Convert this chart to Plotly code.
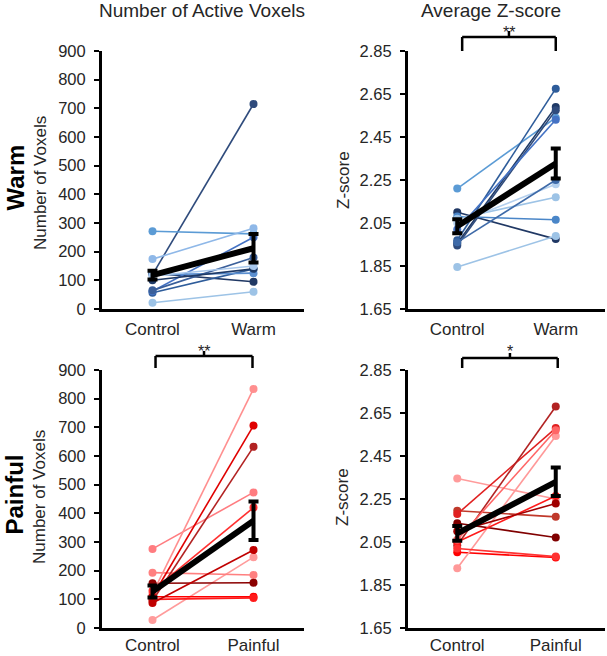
import plotly.graph_objects as go

W, H = 607, 656

conditions = ["Warm", "Painful"]
x_labels_warm = ["Control", "Warm"]
x_labels_pain = ["Control", "Painful"]

# --- Warm: number of active voxels (Control, Warm) per subject
warm_vox_control = [22, 120, 271, 174, 125, 57, 62, 120, 65, 100, 115]
warm_vox_warm = [60, 715, 262, 282, 95, 140, 250, 125, 180, 140, 150]
warm_vox_colors = ["#9DC3E6", "#2F4B7C", "#5B9BD5", "#8FB8E8", "#203864", "#2E5C9A",
                   "#4472C4", "#5B8FD0", "#3A5F9A", "#1F3A66", "#A9C8EC"]
warm_vox_mean = [118, 212]
warm_vox_sem = [15, 50]

# --- Warm: average Z-score
warm_z_control = [2.21, 2.10, 2.08, 2.07, 2.05, 1.97, 1.955, 1.945, 2.02, 1.845, 1.96]
warm_z_warm = [2.54, 1.975, 2.065, 2.17, 2.23, 2.675, 2.59, 2.575, 2.53, 1.99, 2.25]
warm_z_colors = ["#5B9BD5", "#203864", "#4A86C8", "#9DC3E6", "#B4D0EE", "#2E5C9A",
                 "#1F3A66", "#2F4B7C", "#4472C4", "#9DC3E6", "#3E6AA8"]
warm_z_mean = [2.035, 2.327]
warm_z_sem = [0.033, 0.07]

# --- Painful: number of active voxels
pain_vox_control = [28, 276, 193, 156, 109, 100, 120, 110, 95, 87, 130]
pain_vox_pain = [247, 473, 185, 158, 109, 105, 834, 706, 632, 272, 420]
pain_vox_colors = ["#FF9B9B", "#FF7C80", "#FF8080", "#8B0000", "#FF0000", "#FF1A1A",
                   "#FF8F8F", "#E00000", "#B22222", "#C00000", "#FF3030"]
pain_vox_mean = [127, 374]
pain_vox_sem = [21, 67]

# --- Painful: average Z-score
pain_z_control = [2.345, 2.195, 2.18, 2.137, 2.002, 1.928, 2.035, 2.05, 2.02, 2.06, 2.10]
pain_z_pain = [2.25, 2.167, 2.58, 2.071, 1.978, 2.543, 2.68, 2.264, 1.982, 2.57, 2.229]
pain_z_colors = ["#FF9B9B", "#C0392B", "#E02020", "#800000", "#FF0000", "#FF9999",
                 "#B22222", "#FF1A1A", "#FF3333", "#FF6666", "#A00000"]
pain_z_mean = [2.09, 2.33]
pain_z_sem = [0.034, 0.066]

vox_ticks = [0, 100, 200, 300, 400, 500, 600, 700, 800, 900]
z_ticks = [1.65, 1.85, 2.05, 2.25, 2.45, 2.65, 2.85]
z_ticklabels = ["1.65", "1.85", "2.05", "2.25", "2.45", "2.65", "2.85"]

XPOS = [0.5, 1.5]
FONT = "Liberation Sans, Arial, sans-serif"
TXT = "#262626"

fig = go.Figure()


def add_panel(ctrl, cond, colors, mean, sem, xa, ya):
    for c, v, col in zip(ctrl, cond, colors):
        fig.add_trace(go.Scatter(
            x=XPOS, y=[c, v], mode="lines+markers", xaxis=xa, yaxis=ya,
            line=dict(color=col, width=1.6), marker=dict(color=col, size=8),
            showlegend=False, hoverinfo="skip"))
    fig.add_trace(go.Scatter(
        x=XPOS, y=mean, mode="lines", xaxis=xa, yaxis=ya,
        line=dict(color="black", width=6),
        error_y=dict(type="data", array=sem, color="black", thickness=4, width=5),
        showlegend=False, hoverinfo="skip"))


add_panel(warm_vox_control, warm_vox_warm, warm_vox_colors, warm_vox_mean, warm_vox_sem, "x", "y")
add_panel(warm_z_control, warm_z_warm, warm_z_colors, warm_z_mean, warm_z_sem, "x2", "y2")
add_panel(pain_vox_control, pain_vox_pain, pain_vox_colors, pain_vox_mean, pain_vox_sem, "x3", "y3")
add_panel(pain_z_control, pain_z_pain, pain_z_colors, pain_z_mean, pain_z_sem, "x4", "y4")


def px_x(p):
    return p / W


def px_y(p):
    return 1 - p / H


left_dom = [px_x(102), px_x(304)]
right_dom = [px_x(408), px_x(605)]
top_dom = [px_y(309), px_y(51)]
bot_dom = [px_y(628), px_y(370)]

xcommon = dict(range=[0, 2], showline=True, linecolor="black", linewidth=3, ticks="",
               tickvals=XPOS, showgrid=False, zeroline=False, automargin=False,
               tickfont=dict(family=FONT, size=17, color=TXT),
               fixedrange=True)
ycommon = dict(showline=True, linecolor="black", linewidth=3, ticks="outside", ticklen=5,
               tickwidth=2, tickcolor="black", showgrid=False, zeroline=False,
               automargin=False,
               tickfont=dict(family=FONT, size=16.5, color=TXT), ticklabelstandoff=5,
               fixedrange=True)

fig.update_layout(
    template="none",
    width=W, height=H, margin=dict(l=0, r=0, t=0, b=0, pad=0), autosize=False,
    paper_bgcolor="white", plot_bgcolor="white", showlegend=False,
    xaxis=dict(domain=left_dom, anchor="y", ticktext=x_labels_warm, ticklabelstandoff=3, **xcommon),
    yaxis=dict(domain=top_dom, anchor="x", range=[0, 900], tickvals=vox_ticks, **ycommon),
    xaxis2=dict(domain=right_dom, anchor="y2", ticktext=x_labels_warm, ticklabelstandoff=3, **xcommon),
    yaxis2=dict(domain=top_dom, anchor="x2", range=[1.65, 2.85], tickvals=z_ticks,
                ticktext=z_ticklabels, **ycommon),
    xaxis3=dict(domain=left_dom, anchor="y3", ticktext=x_labels_pain, ticklabelstandoff=0, **xcommon),
    yaxis3=dict(domain=bot_dom, anchor="x3", range=[0, 900], tickvals=vox_ticks, **ycommon),
    xaxis4=dict(domain=right_dom, anchor="y4", ticktext=x_labels_pain, ticklabelstandoff=0, **xcommon),
    yaxis4=dict(domain=bot_dom, anchor="x4", range=[1.65, 2.85], tickvals=z_ticks,
                ticktext=z_ticklabels, **ycommon),
)

# significance brackets
def bracket(xa, x0, x1, y_top, y_leg, y_tick, label, label_y):
    lw = 2.5
    fig.add_shape(type="line", xref=xa, yref="paper", x0=x0, x1=x1,
                  y0=px_y(y_top), y1=px_y(y_top), line=dict(color="black", width=lw))
    for xx in (x0, x1):
        fig.add_shape(type="line", xref=xa, yref="paper", x0=xx, x1=xx,
                      y0=px_y(y_top), y1=px_y(y_leg), line=dict(color="black", width=lw))
    xm = (x0 + x1) / 2
    fig.add_shape(type="line", xref=xa, yref="paper", x0=xm, x1=xm,
                  y0=px_y(y_top), y1=px_y(y_tick), line=dict(color="black", width=lw))
    fig.add_annotation(text=label, xref=xa, yref="paper", x=xm, y=px_y(label_y),
                       showarrow=False, yanchor="middle", borderpad=0,
                       font=dict(family=FONT, size=16, color=TXT))


bracket("x2", 0.55, 1.5, 37, 51, 31, "**", 33)
bracket("x3", 0.53, 1.49, 356, 368, 351, "**", 351)
bracket("x4", 0.55, 1.52, 358, 368, 353, "*", 351)

annots = [
    dict(text="Number of Active Voxels", x=px_x(202), y=px_y(11), size=19, bold=False, angle=0),
    dict(text="Average Z-score", x=px_x(491), y=px_y(11), size=19, bold=False, angle=0),
    dict(text="Number of Voxels", x=px_x(40), y=px_y(183), size=17, bold=False, angle=-90),
    dict(text="Z-score", x=px_x(343), y=px_y(180), size=17, bold=False, angle=-90),
    dict(text="Number of Voxels", x=px_x(40), y=px_y(497), size=17, bold=False, angle=-90),
    dict(text="Z-score", x=px_x(343), y=px_y(497), size=17, bold=False, angle=-90),
    dict(text="<b>Warm</b>", x=px_x(14.5), y=px_y(178), size=24, bold=True, angle=-90),
    dict(text="<b>Painful</b>", x=px_x(14.5), y=px_y(495), size=24, bold=True, angle=-90),
]
for a in annots:
    fig.add_annotation(text=a["text"], xref="paper", yref="paper", x=a["x"], y=a["y"],
                       xanchor="center", yanchor="middle", showarrow=False,
                       textangle=a["angle"], borderpad=0,
                       font=dict(family=FONT, size=a["size"],
                                 color="black" if a["bold"] else TXT))

fig.write_html("out.html", config={"displayModeBar": False},
               post_script="document.body.style.margin='0';")
